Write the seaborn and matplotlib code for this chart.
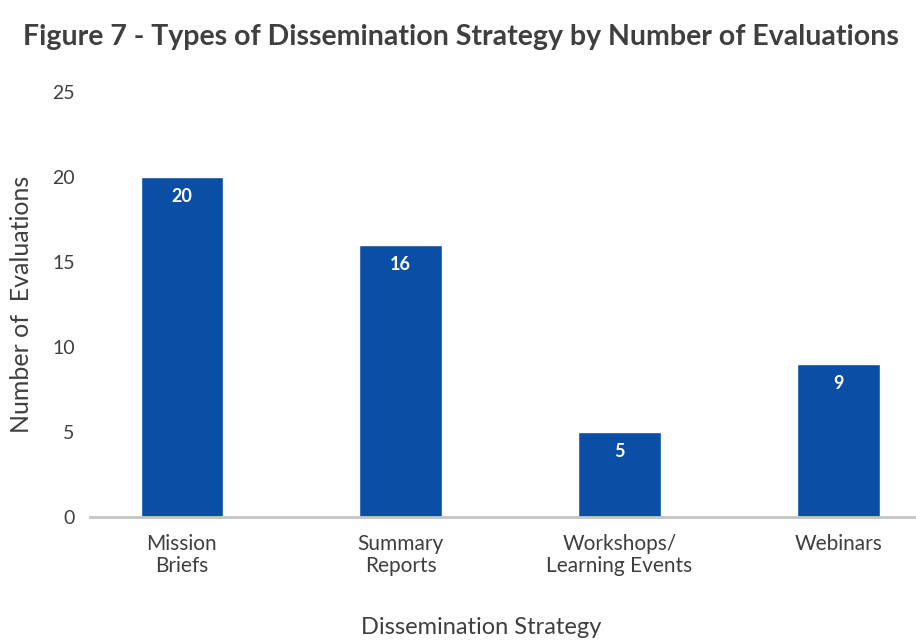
import matplotlib
matplotlib.use("Agg")
import matplotlib.pyplot as plt
import seaborn as sns
import pandas as pd

# Evaluation counts per dissemination strategy
strategies = ["Mission\nBriefs", "Summary\nReports", "Workshops/\nLearning Events", "Webinars"]
evaluations = [20, 16, 5, 9]
y_ticks = [0, 5, 10, 15, 20, 25]

df = pd.DataFrame({"Strategy": strategies, "Evaluations": evaluations})

sns.set_theme(style="white")
plt.rcParams["font.family"] = ["Lato", "DejaVu Sans"]

text_color = "#3f3f3f"
bar_color = "#0b4ea6"

fig = plt.figure(figsize=(9.16, 6.43), dpi=100)
ax = fig.add_axes([0.0983, 0.196, 0.9017, 0.661])

sns.barplot(data=df, x="Strategy", y="Evaluations", color=bar_color,
            width=0.375, saturation=1, ax=ax)

ax.set_ylim(0, 25)
ax.set_xlim(-0.418, 3.354)
ax.set_yticks(y_ticks)
ax.set_yticklabels([str(t) for t in y_ticks])

for spine in ["top", "right", "left"]:
    ax.spines[spine].set_visible(False)
ax.spines["bottom"].set_color("#c4c4c4")
ax.spines["bottom"].set_linewidth(2)

ax.tick_params(axis="y", length=0, pad=11, labelsize=14, labelcolor=text_color)
ax.tick_params(axis="x", length=0, pad=12, labelsize=15, labelcolor=text_color)
for lbl in ax.get_xticklabels():
    lbl.set_linespacing(1.15)

# value labels inside the top of each bar
for patch, val in zip(ax.patches, evaluations):
    ax.annotate(str(val), (patch.get_x() + patch.get_width() / 2, val),
                xytext=(0, -8), textcoords="offset points",
                ha="center", va="top", color="white",
                fontsize=13, fontweight="bold")

ax.set_xlabel("Dissemination Strategy", fontsize=17, color=text_color)
ax.xaxis.set_label_coords(0.473, -0.235)
ax.set_ylabel("Number of  Evaluations", fontsize=18, color=text_color, labelpad=14)

fig.text(0.503, 0.943, "Figure 7 - Types of Dissemination Strategy by Number of Evaluations",
         ha="center", va="center", fontsize=20.5, fontweight="bold", color=text_color)

fig.savefig("out.png", dpi=100, facecolor="white")
